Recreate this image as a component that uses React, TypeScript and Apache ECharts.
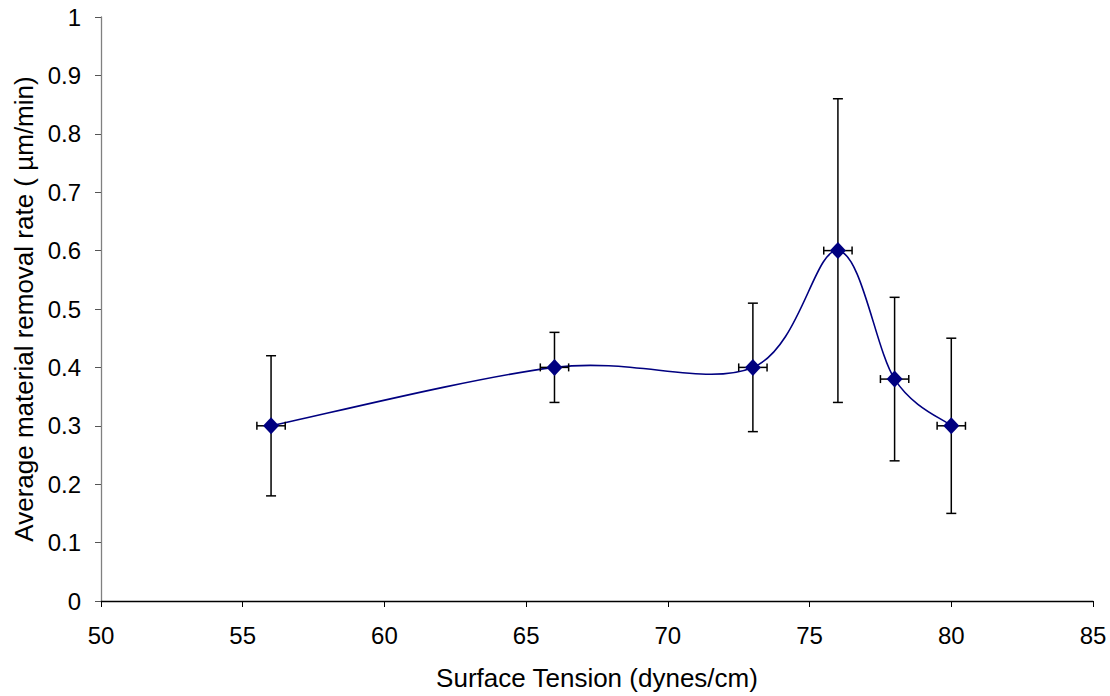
import React, { useEffect, useRef } from "react";
import * as echarts from "echarts";

const tension = [56, 66, 73, 76, 78, 80];
const rate = [0.3, 0.4, 0.4, 0.6, 0.38, 0.3];
const rateLow = [0.18, 0.34, 0.29, 0.34, 0.24, 0.15];
const rateHigh = [0.42, 0.46, 0.51, 0.86, 0.52, 0.45];
const tensionErr = [0.5, 0.5, 0.5, 0.5, 0.5, 0.5];

const xTicks = { min: 50, max: 85, interval: 5 };
const yTicks = { min: 0, max: 1, interval: 0.1 };

const FONT = "Liberation Sans, Arial, sans-serif";
const NAVY = "#000080";

export default function App() {
  const ref = useRef<HTMLDivElement>(null);
  useEffect(() => {
    if (!ref.current) return;
    const chart = echarts.init(ref.current, null, { renderer: "svg" });
    const pts = tension.map((t, i) => [t, rate[i]]);
    const errData = tension.map((t, i) => [t, rate[i], tensionErr[i], rateLow[i], rateHigh[i]]);
    chart.setOption({
      animation: false,
      backgroundColor: "#ffffff",
      textStyle: { fontFamily: FONT },
      grid: { left: 101, right: 17, top: 17, bottom: 94 },
      xAxis: {
        type: "value",
        min: xTicks.min,
        max: xTicks.max,
        interval: xTicks.interval,
        name: "Surface Tension (dynes/cm)",
        nameLocation: "middle",
        nameGap: 64,
        nameTextStyle: { color: "#000", fontSize: 26, fontFamily: FONT },
        axisLine: { onZero: false, lineStyle: { color: "#000", width: 1.3 } },
        axisTick: { show: true, length: 6, lineStyle: { color: "#000" } },
        axisLabel: { color: "#000", fontSize: 24, margin: 22, fontFamily: FONT },
        splitLine: { show: false },
      },
      yAxis: {
        type: "value",
        min: yTicks.min,
        max: yTicks.max,
        interval: yTicks.interval,
        name: "Average material removal rate ( \u00b5m/min)",
        nameLocation: "middle",
        nameGap: 63,
        nameTextStyle: { color: "#000", fontSize: 26, fontFamily: FONT },
        axisLine: { show: true, lineStyle: { color: "#808080", width: 1.3 } },
        axisTick: { show: true, length: 6, lineStyle: { color: "#555" } },
        axisLabel: {
          color: "#000",
          fontSize: 24,
          margin: 20,
          fontFamily: FONT,
          formatter: (v: number) => String(Math.round(v * 10) / 10),
        },
        splitLine: { show: false },
      },
      series: [
        {
          type: "custom",
          name: "curve",
          coordinateSystem: "cartesian2d",
          data: pts,
          z: 2,
          silent: true,
          renderItem: (params: any, api: any) => {
            const i = params.dataIndex;
            const n = pts.length;
            if (i >= n - 1) return null;
            const P = (k: number) => {
              const kk = Math.max(0, Math.min(n - 1, k));
              return api.coord(pts[kk]);
            };
            const p0 = P(i - 1), p1 = P(i), p2 = P(i + 1), p3 = P(i + 2);
            const c1 = [p1[0] + (p2[0] - p0[0]) / 6, p1[1] + (p2[1] - p0[1]) / 6];
            const c2 = [p2[0] - (p3[0] - p1[0]) / 6, p2[1] - (p3[1] - p1[1]) / 6];
            return {
              type: "bezierCurve",
              shape: {
                x1: p1[0], y1: p1[1],
                x2: p2[0], y2: p2[1],
                cpx1: c1[0], cpy1: c1[1],
                cpx2: c2[0], cpy2: c2[1],
              },
              style: { stroke: NAVY, lineWidth: 1.6, fill: "none" },
            };
          },
        },
        {
          type: "custom",
          name: "errors",
          coordinateSystem: "cartesian2d",
          data: errData,
          z: 3,
          silent: true,
          renderItem: (params: any, api: any) => {
            const x = api.value(0), y = api.value(1), xe = api.value(2);
            const lo = api.value(3), hi = api.value(4);
            const top = api.coord([x, hi]);
            const bot = api.coord([x, lo]);
            const left = api.coord([x - xe, y]);
            const right = api.coord([x + xe, y]);
            const cw = 5, ch = 4;
            const st = { stroke: "#000", lineWidth: 1.5 };
            return {
              type: "group",
              children: [
                { type: "line", shape: { x1: top[0], y1: top[1], x2: bot[0], y2: bot[1] }, style: st },
                { type: "line", shape: { x1: top[0] - cw, y1: top[1], x2: top[0] + cw, y2: top[1] }, style: st },
                { type: "line", shape: { x1: bot[0] - cw, y1: bot[1], x2: bot[0] + cw, y2: bot[1] }, style: st },
                { type: "line", shape: { x1: left[0], y1: left[1], x2: right[0], y2: right[1] }, style: st },
                { type: "line", shape: { x1: left[0], y1: left[1] - ch, x2: left[0], y2: left[1] + ch }, style: st },
                { type: "line", shape: { x1: right[0], y1: right[1] - ch, x2: right[0], y2: right[1] + ch }, style: st },
              ],
            };
          },
        },
        {
          type: "scatter",
          name: "points",
          data: pts,
          symbol: "diamond",
          symbolSize: [16, 17],
          itemStyle: { color: NAVY, opacity: 1 },
          z: 5,
          silent: true,
        },
      ],
    });
    return () => chart.dispose();
  }, []);
  return (
    <div
      ref={ref}
      style={{ position: "absolute", left: 0, top: 0, width: 1110, height: 696, background: "#fff" }}
    />
  );
}
